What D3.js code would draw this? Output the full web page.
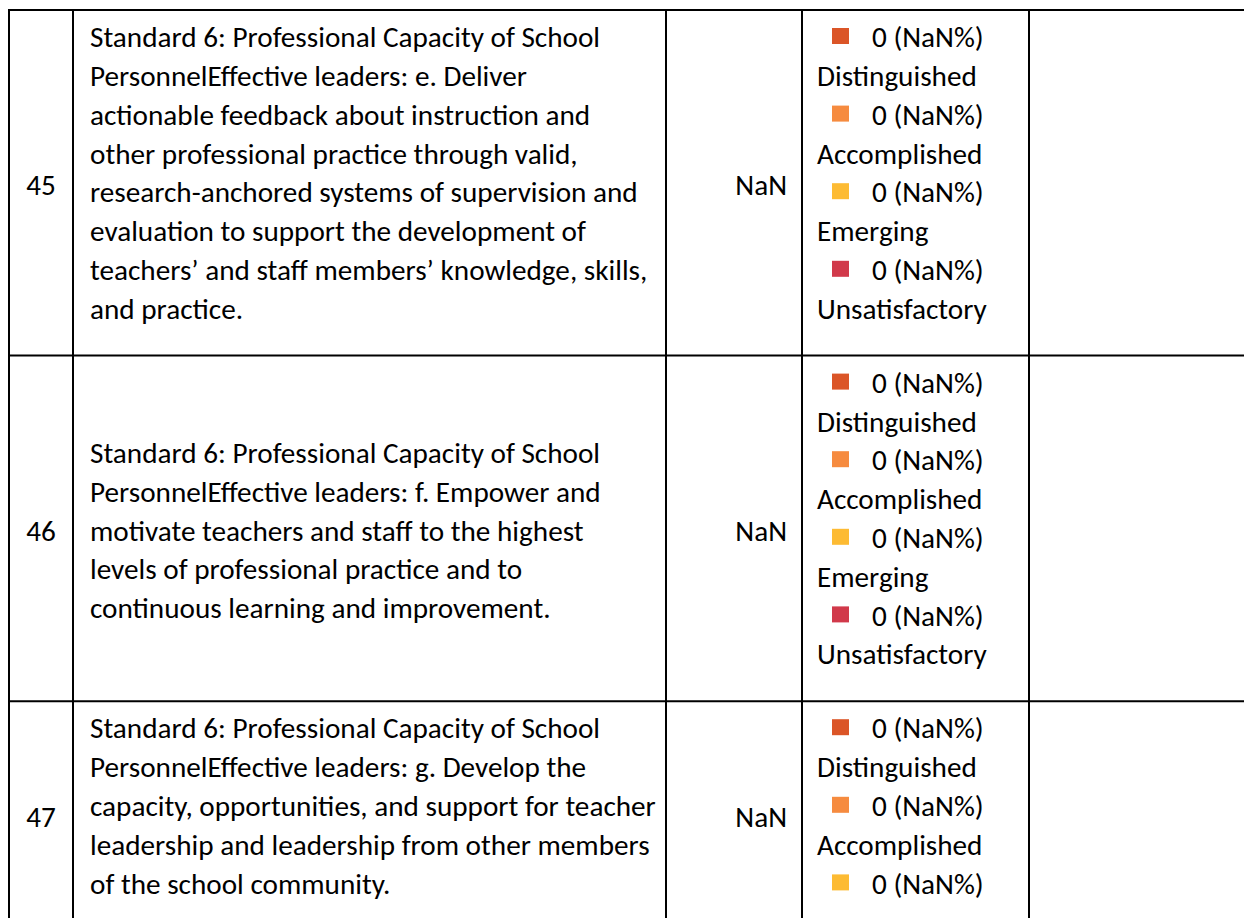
<!DOCTYPE html>
<html>
<head>
<meta charset="utf-8">
<script src="https://cdn.jsdelivr.net/npm/d3@7"></script>
<style>
  html, body { margin: 0; padding: 0; background: #fff; }
  svg { display: block; }
</style>
</head>
<body>
<svg id="chart" width="1244" height="918"></svg>
<script>
// ---------------- data ----------------
const rowIds = [45, 46, 47];
const rowTexts = [
  ["Standard 6: Professional Capacity of School",
   "PersonnelEffective leaders: e. Deliver",
   "actionable feedback about instruction and",
   "other professional practice through valid,",
   "research-anchored systems of supervision and",
   "evaluation to support the development of",
   "teachers\u2019 and staff members\u2019 knowledge, skills,",
   "and practice."],
  ["Standard 6: Professional Capacity of School",
   "PersonnelEffective leaders: f. Empower and",
   "motivate teachers and staff to the highest",
   "levels of professional practice and to",
   "continuous learning and improvement."],
  ["Standard 6: Professional Capacity of School",
   "PersonnelEffective leaders: g. Develop the",
   "capacity, opportunities, and support for teacher",
   "leadership and leadership from other members",
   "of the school community."]
];
const levels = ["Distinguished", "Accomplished", "Emerging", "Unsatisfactory"];
const levelWeights = [4, 3, 2, 1];
const levelColors = ["#db5527", "#f68b3f", "#fdbb33", "#d1394a"];
const levelCounts = [
  [0, 0, 0, 0],
  [0, 0, 0, 0],
  [0, 0, 0, 0]
];

// ---------------- layout ----------------
const W = 1244, H = 918;
const FONT = "Carlito, Lato, 'Noto Sans', sans-serif";
const colEdges = [9, 73, 666, 802, 1029, 1300];
const tableTop = 10;
const lineStep = 38.8;
const padTop = 27, padBottom = 47;
const pageBottom = 905;

const svg = d3.select("#chart");

// font size so the paragraph text has the reference width
const probe = svg.append("text").attr("font-family", FONT).attr("font-size", 100)
  .text("capacity, opportunities, and support for teacher");
const fontSize = 100 * 566 / probe.node().getComputedTextLength();
probe.remove();

// derived values
const rows = rowIds.map((id, i) => {
  const counts = levelCounts[i];
  const total = d3.sum(counts);
  const score = d3.sum(counts, (c, k) => c * levelWeights[k]) / total;
  const legendLines = [];
  levels.forEach((lv, k) => {
    legendLines.push({type: "value", k, text: `${counts[k]} (${(counts[k] / total * 100)}%)`});
    legendLines.push({type: "name", k, text: lv});
  });
  return {id, text: rowTexts[i], score: String(score), legendLines};
});

// row heights from content
const rowHeights = rows.map(r => {
  const n = Math.max(r.text.length, r.legendLines.length);
  return (n - 1) * lineStep + padTop + padBottom;
});
const rowTops = [];
let acc = tableTop;
rows.forEach((r, i) => { rowTops.push(acc); acc += rowHeights[i]; });
// last row is split by the page: only the part on this page is shown
const rowBottoms = rows.map((r, i) => i === rows.length - 1 ? 928 : rowTops[i] + rowHeights[i]);

const x = d3.scaleOrdinal().domain(d3.range(colEdges.length)).range(colEdges);

const content = svg.append("g")
  .attr("font-family", FONT).attr("font-size", fontSize).attr("fill", "#000");

rows.forEach((r, i) => {
  const top = rowTops[i], bottom = rowBottoms[i];
  const mid = (top + bottom) / 2 + 2;
  const g = content.append("g");

  g.append("text").attr("x", (x(0) + x(1)) / 2).attr("y", mid)
    .attr("dy", "0.35em").attr("text-anchor", "middle").text(r.id);

  const n = r.text.length;
  let first = mid - (n - 1) * lineStep / 2;
  const lastMax = bottom - padBottom;
  if (first + (n - 1) * lineStep > lastMax) first = lastMax - (n - 1) * lineStep;
  if (first < top + padTop) first = top + padTop;
  g.selectAll("text.para").data(r.text).join("text").attr("class", "para")
    .attr("x", x(1) + 17).attr("y", (d, j) => first + j * lineStep)
    .attr("dy", "0.35em").text(d => d);

  g.append("text").attr("x", x(3) - 15).attr("y", mid)
    .attr("dy", "0.35em").attr("text-anchor", "end").text(r.score);

  // legend lines that fit on this page
  const shown = r.legendLines
    .map((d, j) => Object.assign({cy: top + padTop + j * lineStep}, d))
    .filter(d => d.cy < pageBottom);
  const lg = g.selectAll("g.leg").data(shown).join("g").attr("class", "leg")
    .attr("transform", d => `translate(0,${d.cy})`);
  lg.filter(d => d.type === "value").append("rect")
    .attr("x", x(3) + 30).attr("y", -9).attr("width", 17).attr("height", 16)
    .attr("fill", d => levelColors[d.k]);
  lg.append("text")
    .attr("x", d => d.type === "value" ? x(3) + 70 : x(3) + 15)
    .attr("dy", "0.35em").text(d => d.text);
});

// grid lines
const lines = svg.append("g").attr("stroke", "#000").attr("stroke-width", 2);
const hY = [tableTop, ...rowTops.slice(1)];
lines.selectAll("line.h").data(hY).join("line").attr("class", "h")
  .attr("x1", x(0) - 1).attr("x2", W).attr("y1", d => d).attr("y2", d => d);
lines.selectAll("line.v").data(d3.range(colEdges.length - 1)).join("line").attr("class", "v")
  .attr("x1", d => x(d)).attr("x2", d => x(d)).attr("y1", tableTop - 1).attr("y2", H);
</script>
</body>
</html>
